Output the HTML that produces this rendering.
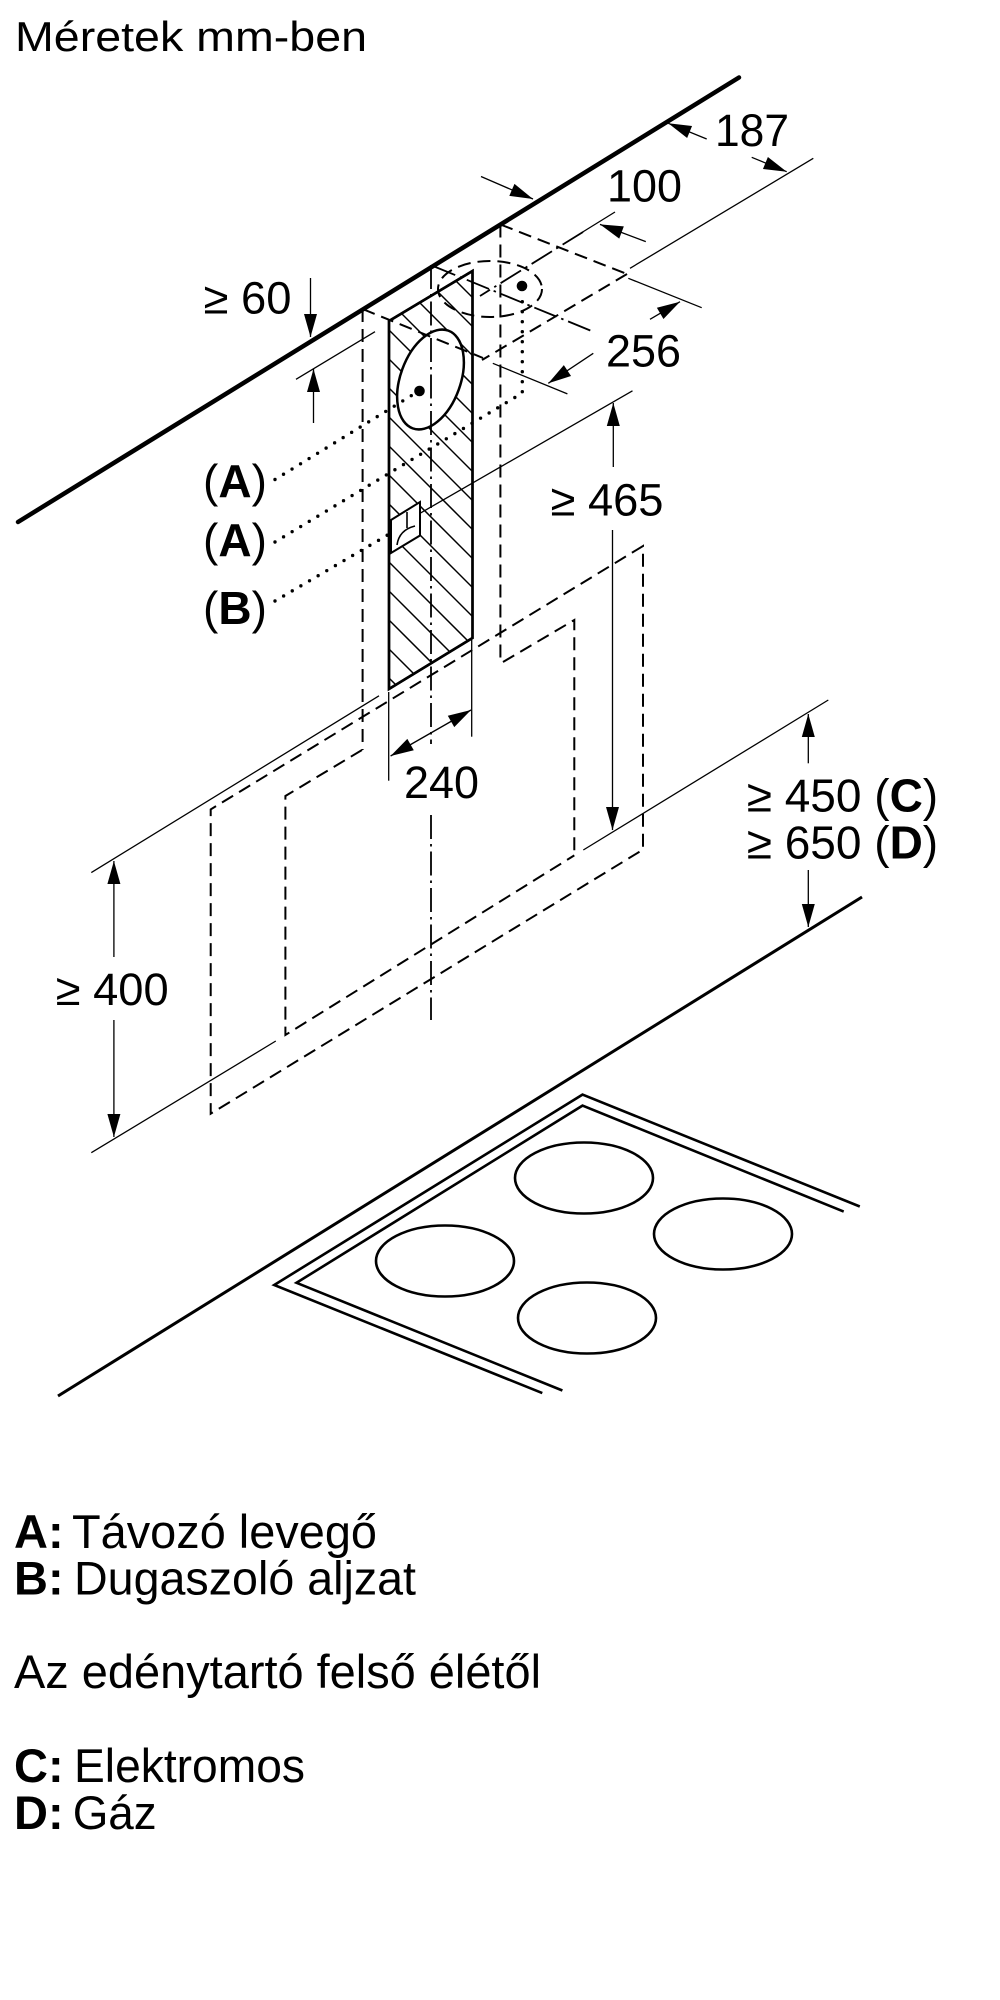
<!DOCTYPE html>
<html>
<head>
<meta charset="utf-8">
<style>
html,body{margin:0;padding:0;background:#fff;}
svg{display:block;}
text{font-family:"Liberation Sans",Arial,sans-serif;fill:#000;}
.d{fill:none;stroke:#000;stroke-width:2;stroke-dasharray:13 7;}
.dd{fill:none;stroke:#000;stroke-width:1.8;stroke-dasharray:24 5 2.5 5;}
.t{fill:none;stroke:#000;stroke-width:1.3;}
.dot{fill:none;stroke:#000;stroke-width:3.4;stroke-dasharray:0 10;stroke-linecap:round;}
.ar{fill:none;stroke:#000;stroke-width:1.3;marker-end:url(#ah);}
</style>
</head>
<body>
<svg width="1000" height="2000" viewBox="0 0 1000 2000" xmlns="http://www.w3.org/2000/svg">
<defs>
<marker id="ah" viewBox="-24 -8 25 16" refX="0" refY="0" markerWidth="25" markerHeight="16" markerUnits="userSpaceOnUse" orient="auto-start-reverse">
<path d="M0,0 L-23,-6.5 L-23,6.5 z" fill="#000"/>
</marker>
<clipPath id="hc"><polygon points="389,321 472.5,271 472.5,638 389,689"/></clipPath>
</defs>
<rect x="0" y="0" width="1000" height="2000" fill="#fff"/>

<!-- title -->
<text x="15" y="51" font-size="42" textLength="352" lengthAdjust="spacingAndGlyphs">Méretek mm-ben</text>

<!-- wall line -->
<line x1="18" y1="522" x2="739" y2="77.5" stroke="#000" stroke-width="4.5" stroke-linecap="round"/>

<!-- outer & inner dashed boxes -->
<polygon points="643,546 210.7,809.4 210.7,1113.7 643,849.6" class="d"/>
<polyline points="503,662 574.3,620 574.3,855.4" class="d"/>
<polyline points="362,750 285.4,796 285.4,1035 574.3,855.4" class="d"/>

<!-- chimney dashed -->
<line x1="362.6" y1="309" x2="362.6" y2="750" class="d"/>
<line x1="500.4" y1="224.5" x2="500.4" y2="660" class="d"/>
<line x1="500.4" y1="224.5" x2="627" y2="274" class="d"/>
<line x1="627" y1="274" x2="482" y2="360" class="d"/>

<!-- hood -->
<polygon points="389,321 472.5,271 472.5,638 389,689" fill="#fff" stroke="#000" stroke-width="2.5"/>
<g clip-path="url(#hc)" stroke="#000" stroke-width="1.5">
<line x1="385" y1="210" x2="478" y2="303"/>
<line x1="385" y1="239" x2="478" y2="332"/>
<line x1="385" y1="268" x2="478" y2="361"/>
<line x1="385" y1="297" x2="478" y2="390"/>
<line x1="385" y1="326" x2="478" y2="419"/>
<line x1="385" y1="355" x2="478" y2="448"/>
<line x1="385" y1="384" x2="478" y2="477"/>
<line x1="385" y1="413" x2="478" y2="506"/>
<line x1="385" y1="442" x2="478" y2="535"/>
<line x1="385" y1="471" x2="478" y2="564"/>
<line x1="385" y1="500" x2="478" y2="593"/>
<line x1="385" y1="529" x2="478" y2="622"/>
<line x1="385" y1="558" x2="478" y2="651"/>
<line x1="385" y1="587" x2="478" y2="680"/>
<line x1="385" y1="616" x2="478" y2="709"/>
<line x1="385" y1="645" x2="478" y2="738"/>
<line x1="385" y1="674" x2="478" y2="767"/>
</g>
<polygon points="389,321 472.5,271 472.5,638 389,689" fill="none" stroke="#000" stroke-width="2.5"/>
<ellipse cx="430.5" cy="379.5" rx="30" ry="52" transform="rotate(20 430.5 379.5)" fill="#fff" stroke="#000" stroke-width="2.5"/>
<circle cx="419.5" cy="391" r="5.3" fill="#000"/>
<polygon points="391,520 420,502 420,535.5 391,553" fill="#fff" stroke="#000" stroke-width="2"/>
<path d="M407,512 V528 M397,545 Q399,530 415,526" fill="none" stroke="#000" stroke-width="1.6"/>

<!-- dashed top stuff over hood -->
<line x1="362.6" y1="309" x2="483" y2="358" class="d"/>
<ellipse cx="490" cy="289" rx="52" ry="28" class="d"/>
<circle cx="522" cy="286" r="5.3" fill="#000"/>
<line x1="433" y1="266" x2="594" y2="332" class="dd"/>
<line x1="583" y1="232" x2="480" y2="296" class="dd"/>
<line x1="431" y1="265" x2="431" y2="744" class="dd"/>
<line x1="431" y1="815" x2="431" y2="1020" class="dd"/>

<!-- leaders -->
<line x1="275" y1="479.5" x2="414" y2="394" class="dot"/>
<polyline points="275,542 522.3,393 522.3,298" class="dot"/>
<line x1="275" y1="601" x2="391" y2="533" class="dot"/>

<!-- extension lines -->
<line x1="296" y1="379.3" x2="375" y2="331.7" class="t"/>
<line x1="813.3" y1="158.3" x2="630" y2="268.3" class="t"/>
<line x1="582.7" y1="232" x2="615" y2="212" class="t"/>
<line x1="628.3" y1="278.3" x2="701.7" y2="307.7" class="t"/>
<line x1="492.8" y1="363.3" x2="567.4" y2="393.9" class="t"/>
<line x1="632.5" y1="390.8" x2="420" y2="513.3" class="t"/>
<line x1="583.3" y1="850" x2="828.3" y2="700" class="t"/>
<line x1="388.7" y1="692" x2="388.7" y2="780.7" class="t"/>
<line x1="471.7" y1="640" x2="471.7" y2="736.7" class="t"/>
<line x1="91.3" y1="872.6" x2="379" y2="695.8" class="t"/>
<line x1="91.3" y1="1152.7" x2="275.8" y2="1041" class="t"/>

<!-- dimension arrows -->
<line x1="310.5" y1="278" x2="310.5" y2="337" class="ar"/>
<line x1="313.5" y1="423" x2="313.5" y2="369" class="ar"/>
<line x1="706.7" y1="139" x2="668.3" y2="123.3" class="ar"/>
<line x1="751.7" y1="157.3" x2="786.7" y2="171.7" class="ar"/>
<line x1="481" y1="176.5" x2="533" y2="199" class="ar"/>
<line x1="645.8" y1="241.6" x2="600" y2="224.4" class="ar"/>
<line x1="650" y1="319.3" x2="680" y2="301.7" class="ar"/>
<line x1="593.3" y1="353.3" x2="548.3" y2="383.3" class="ar"/>
<line x1="613.3" y1="467" x2="613.3" y2="403" class="ar"/>
<line x1="612.5" y1="530" x2="612.5" y2="830" class="ar"/>
<line x1="390.6" y1="756" x2="471" y2="710" class="t" marker-start="url(#ah)" marker-end="url(#ah)"/>
<line x1="113.9" y1="957" x2="113.9" y2="861" class="ar"/>
<line x1="113.9" y1="1020" x2="113.9" y2="1137" class="ar"/>
<line x1="808.3" y1="763.3" x2="808.3" y2="714" class="ar"/>
<line x1="808.3" y1="870" x2="808.3" y2="927" class="ar"/>

<!-- countertop & hob -->
<line x1="862" y1="897" x2="58" y2="1396" stroke="#000" stroke-width="3"/>
<polyline points="859.8,1206.5 582.5,1094.6 274.2,1285 542.3,1393.1" fill="none" stroke="#000" stroke-width="2.6"/>
<polyline points="843.7,1211.6 582.5,1105.6 296.5,1282.8 562.4,1390.5" fill="none" stroke="#000" stroke-width="2.6"/>
<g fill="none" stroke="#000" stroke-width="2.6">
<ellipse cx="584" cy="1178" rx="69" ry="35.5"/>
<ellipse cx="723" cy="1234" rx="69" ry="35.5"/>
<ellipse cx="445" cy="1261" rx="69" ry="35.5"/>
<ellipse cx="587" cy="1318" rx="69" ry="35.5"/>
</g>

<!-- dimension texts -->
<g font-size="45">
<text x="715" y="146" textLength="74" lengthAdjust="spacingAndGlyphs">187</text>
<text x="607" y="201.5" textLength="75" lengthAdjust="spacingAndGlyphs">100</text>
<text x="606" y="366.5" textLength="75" lengthAdjust="spacingAndGlyphs">256</text>
<text x="203.5" y="313.5" textLength="88" lengthAdjust="spacingAndGlyphs">≥ 60</text>
<text x="550.5" y="515.5" textLength="113" lengthAdjust="spacingAndGlyphs">≥ 465</text>
<text x="404" y="798" textLength="75" lengthAdjust="spacingAndGlyphs">240</text>
<text x="55.7" y="1005" textLength="113" lengthAdjust="spacingAndGlyphs">≥ 400</text>
</g>
<g font-size="46">
<text x="746.7" y="811.7">≥ 450 (<tspan font-weight="bold">C</tspan>)</text>
<text x="746.7" y="858.3">≥ 650 (<tspan font-weight="bold">D</tspan>)</text>
</g>
<g font-size="46">
<text x="203" y="497">(<tspan font-weight="bold">A</tspan>)</text>
<text x="203" y="556">(<tspan font-weight="bold">A</tspan>)</text>
<text x="203" y="624">(<tspan font-weight="bold">B</tspan>)</text>
</g>

<!-- legend -->
<g font-size="47">
<text x="14" y="1548" font-weight="bold">A:</text>
<text x="72" y="1548" textLength="305" lengthAdjust="spacingAndGlyphs">Távozó levegő</text>
<text x="14" y="1594.5" font-weight="bold">B:</text>
<text x="74" y="1594.5" textLength="342" lengthAdjust="spacingAndGlyphs">Dugaszoló aljzat</text>
<text x="14" y="1688" textLength="527" lengthAdjust="spacingAndGlyphs">Az edénytartó felső élétől</text>
<text x="14" y="1782" font-weight="bold">C:</text>
<text x="74" y="1782" textLength="231" lengthAdjust="spacingAndGlyphs">Elektromos</text>
<text x="14" y="1829" font-weight="bold">D:</text>
<text x="72.7" y="1829" textLength="84" lengthAdjust="spacingAndGlyphs">Gáz</text>
</g>
</svg>
</body>
</html>
